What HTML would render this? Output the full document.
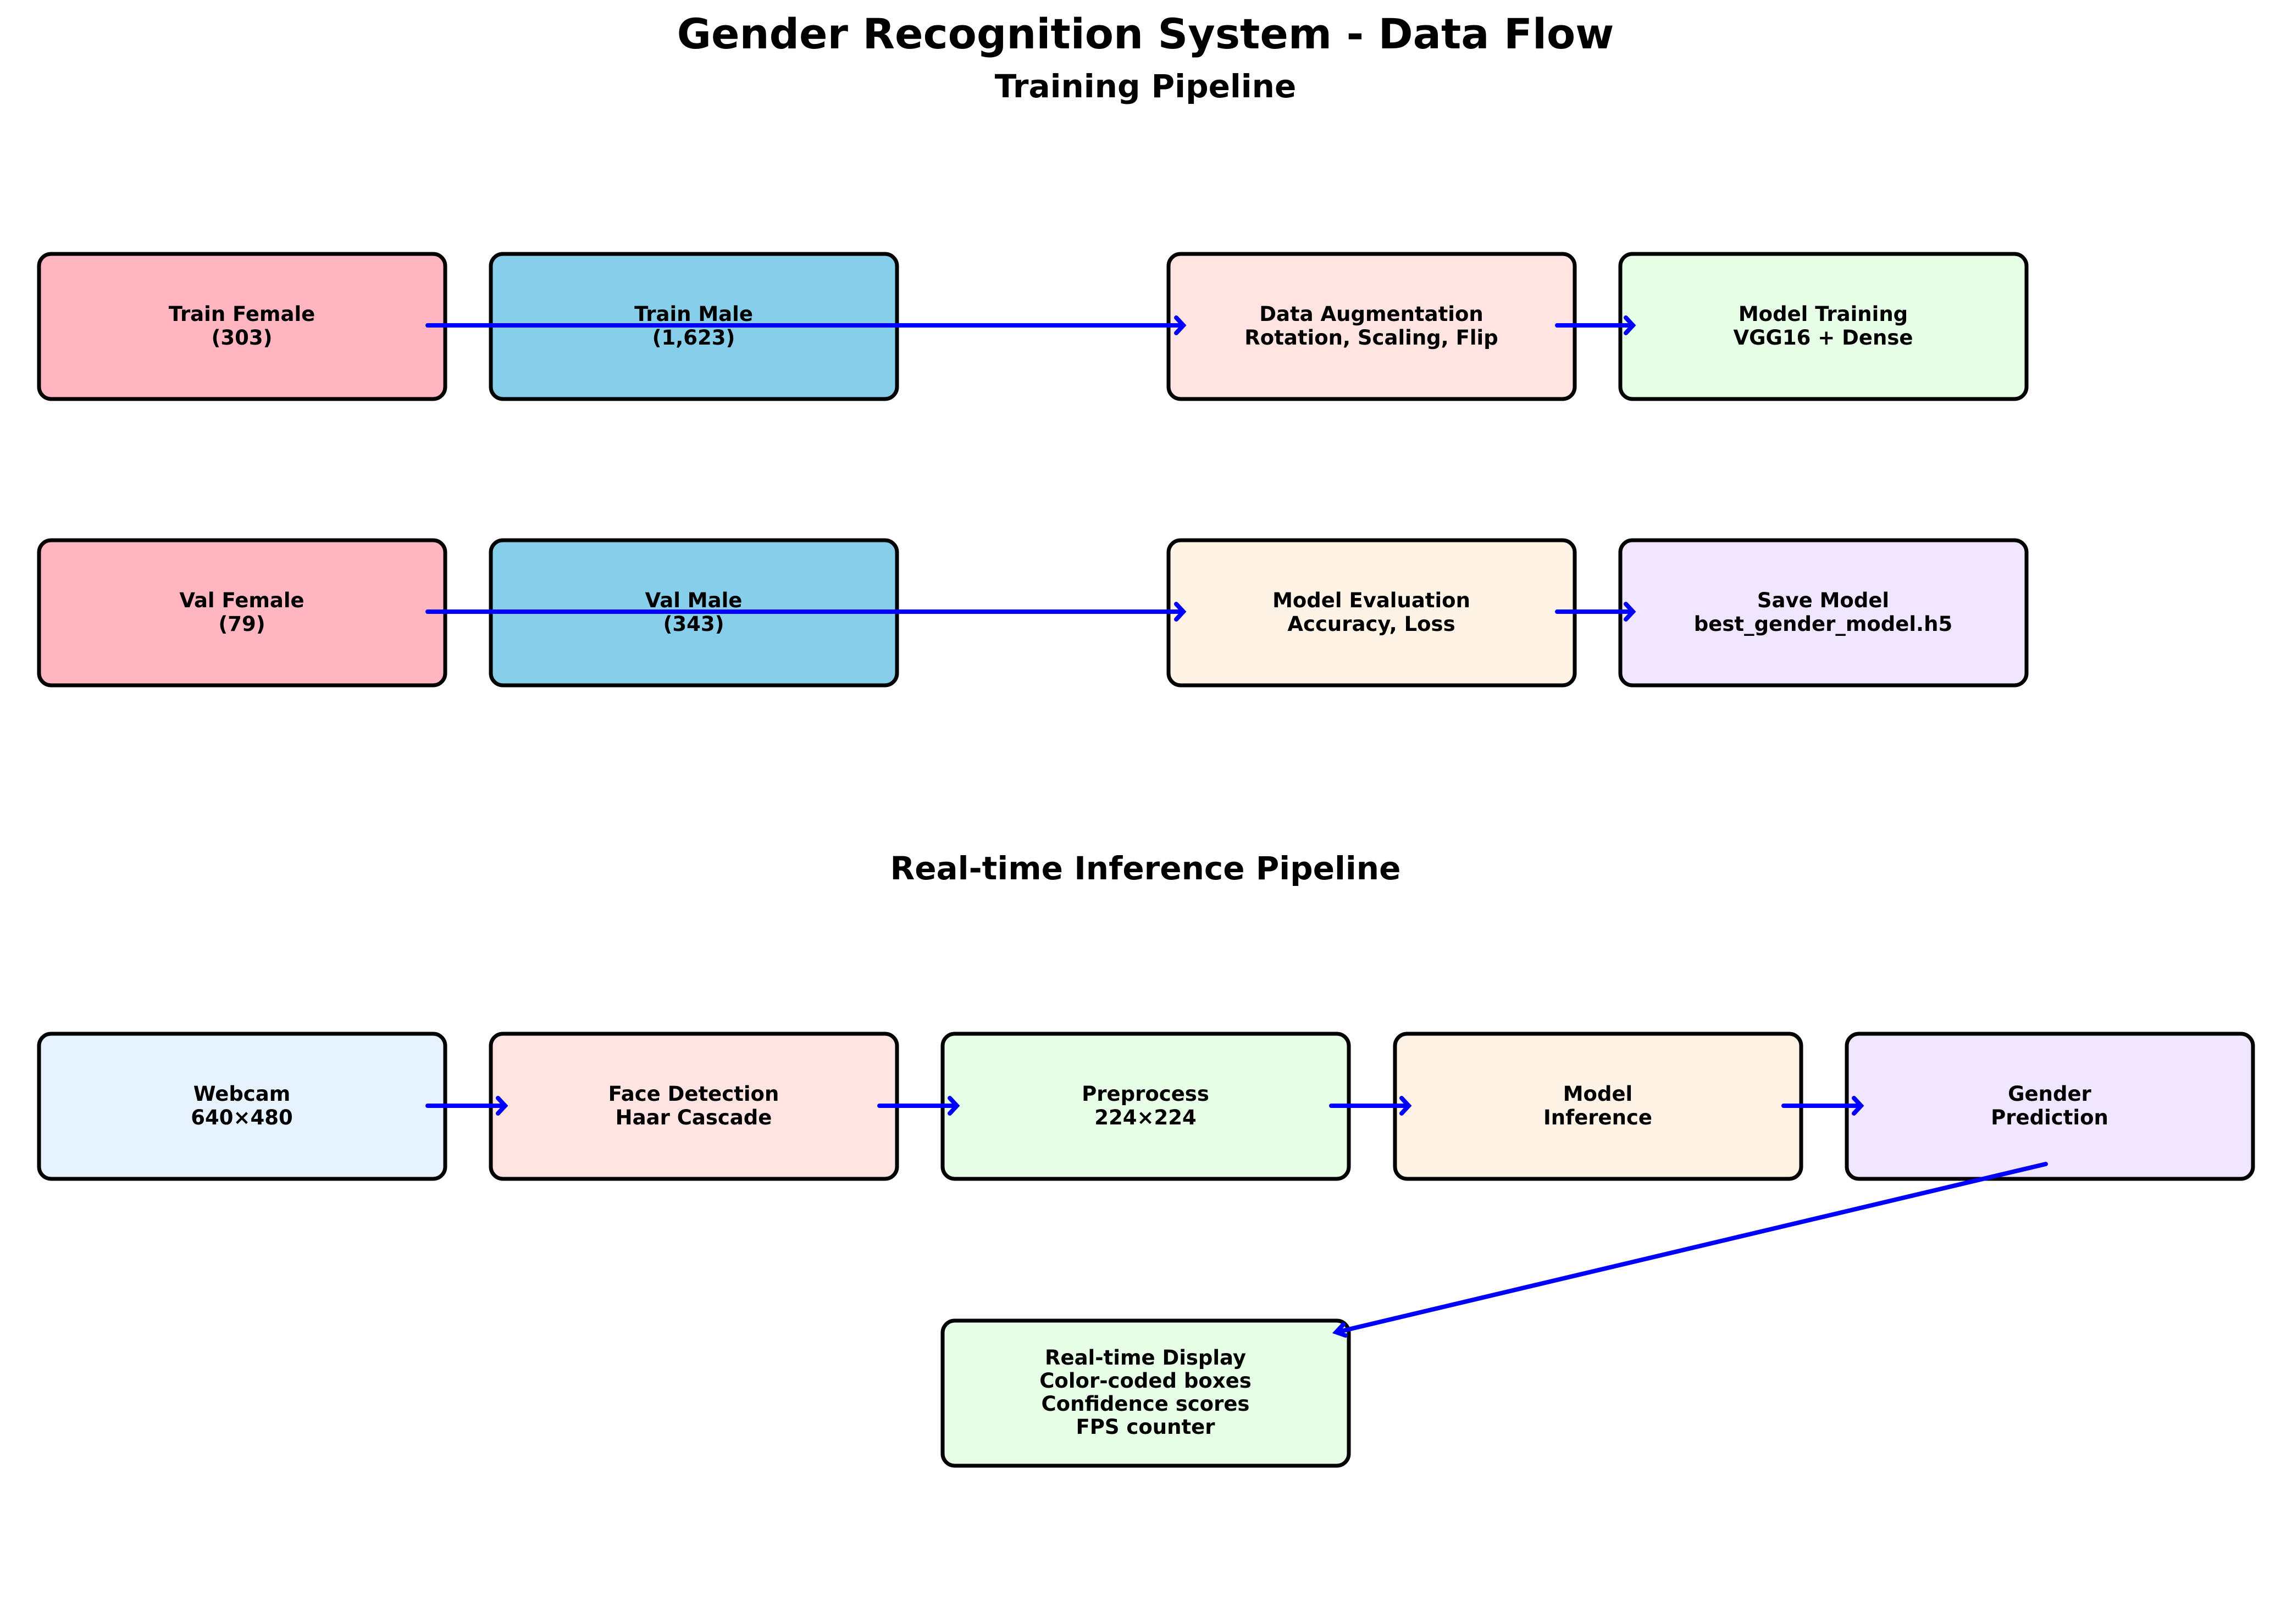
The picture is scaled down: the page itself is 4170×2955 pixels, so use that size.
<!DOCTYPE html>
<html><head><meta charset="utf-8"><style>html,body{margin:0;padding:0;background:#fff}svg{display:block}</style></head><body>
<svg width="4170" height="2955" viewBox="0 0 4170 2955" xmlns="http://www.w3.org/2000/svg" font-family="DejaVu Sans, Liberation Sans, sans-serif" font-weight="bold">
<rect width="4170" height="2955" fill="#fff"/>
<text x="2084" y="88" font-size="76" text-anchor="middle">Gender Recognition System - Data Flow</text>
<text x="2084" y="177" font-size="58" text-anchor="middle">Training Pipeline</text>
<text x="2084" y="1600" font-size="58" text-anchor="middle">Real-time Inference Pipeline</text>
<g stroke="#000" stroke-width="7">
<rect x="71" y="462" width="739" height="264" rx="22" fill="#FFB6C1"/>
<rect x="893" y="462" width="739" height="264" rx="22" fill="#87CEEB"/>
<rect x="2126" y="462" width="739" height="264" rx="22" fill="#FFE4E1"/>
<rect x="2948" y="462" width="739" height="264" rx="22" fill="#E6FFE6"/>
<rect x="71" y="983" width="739" height="264" rx="22" fill="#FFB6C1"/>
<rect x="893" y="983" width="739" height="264" rx="22" fill="#87CEEB"/>
<rect x="2126" y="983" width="739" height="264" rx="22" fill="#FFF3E6"/>
<rect x="2948" y="983" width="739" height="264" rx="22" fill="#F0E6FF"/>
<rect x="71" y="1881" width="739" height="264" rx="22" fill="#E6F3FF"/>
<rect x="893" y="1881" width="739" height="264" rx="22" fill="#FFE4E1"/>
<rect x="1715" y="1881" width="739" height="264" rx="22" fill="#E6FFE6"/>
<rect x="2538" y="1881" width="739" height="264" rx="22" fill="#FFF3E6"/>
<rect x="3360" y="1881" width="739" height="264" rx="22" fill="#F0E6FF"/>
<rect x="1715" y="2403" width="739" height="264" rx="22" fill="#E6FFE6"/>
</g>
<g font-size="37" text-anchor="middle">
<text x="440" y="584">Train Female</text><text x="440" y="627">(303)</text>
<text x="1262" y="584">Train Male</text><text x="1262" y="627">(1,623)</text>
<text x="2495" y="584">Data Augmentation</text><text x="2495" y="627">Rotation, Scaling, Flip</text>
<text x="3317" y="584">Model Training</text><text x="3317" y="627">VGG16 + Dense</text>
<text x="440" y="1105">Val Female</text><text x="440" y="1148">(79)</text>
<text x="1262" y="1105">Val Male</text><text x="1262" y="1148">(343)</text>
<text x="2495" y="1105">Model Evaluation</text><text x="2495" y="1148">Accuracy, Loss</text>
<text x="3317" y="1105">Save Model</text><text x="3317" y="1148">best_gender_model.h5</text>
<text x="440" y="2003">Webcam</text><text x="440" y="2046">640×480</text>
<text x="1262" y="2003">Face Detection</text><text x="1262" y="2046">Haar Cascade</text>
<text x="2084" y="2003">Preprocess</text><text x="2084" y="2046">224×224</text>
<text x="2907" y="2003">Model</text><text x="2907" y="2046">Inference</text>
<text x="3729" y="2003">Gender</text><text x="3729" y="2046">Prediction</text>
<text x="2084" y="2483">Real-time Display</text><text x="2084" y="2525">Color-coded boxes</text><text x="2084" y="2567">Confidence scores</text><text x="2084" y="2609">FPS counter</text>
</g>
<g stroke="#0000FF" stroke-width="8" fill="none" stroke-linecap="round">
<path d="M778 592 H2152 M2140 578 L2153 592 L2140 606"/>
<path d="M2833 592 H2970 M2958 578 L2971 592 L2958 606"/>
<path d="M778 1113 H2152 M2140 1099 L2153 1113 L2140 1127"/>
<path d="M2833 1113 H2970 M2958 1099 L2971 1113 L2958 1127"/>
<path d="M778 2012 H918 M906 1998 L919 2012 L906 2026"/>
<path d="M1600 2012 H1740 M1728 1998 L1741 2012 L1728 2026"/>
<path d="M2422 2012 H2562 M2550 1998 L2563 2012 L2550 2026"/>
<path d="M3245 2012 H3385 M3373 1998 L3386 2012 L3373 2026"/>
<path d="M3722 2118 L2432 2424 M2444 2410 L2431 2424 L2448 2430"/>
</g>
</svg>
</body></html>
